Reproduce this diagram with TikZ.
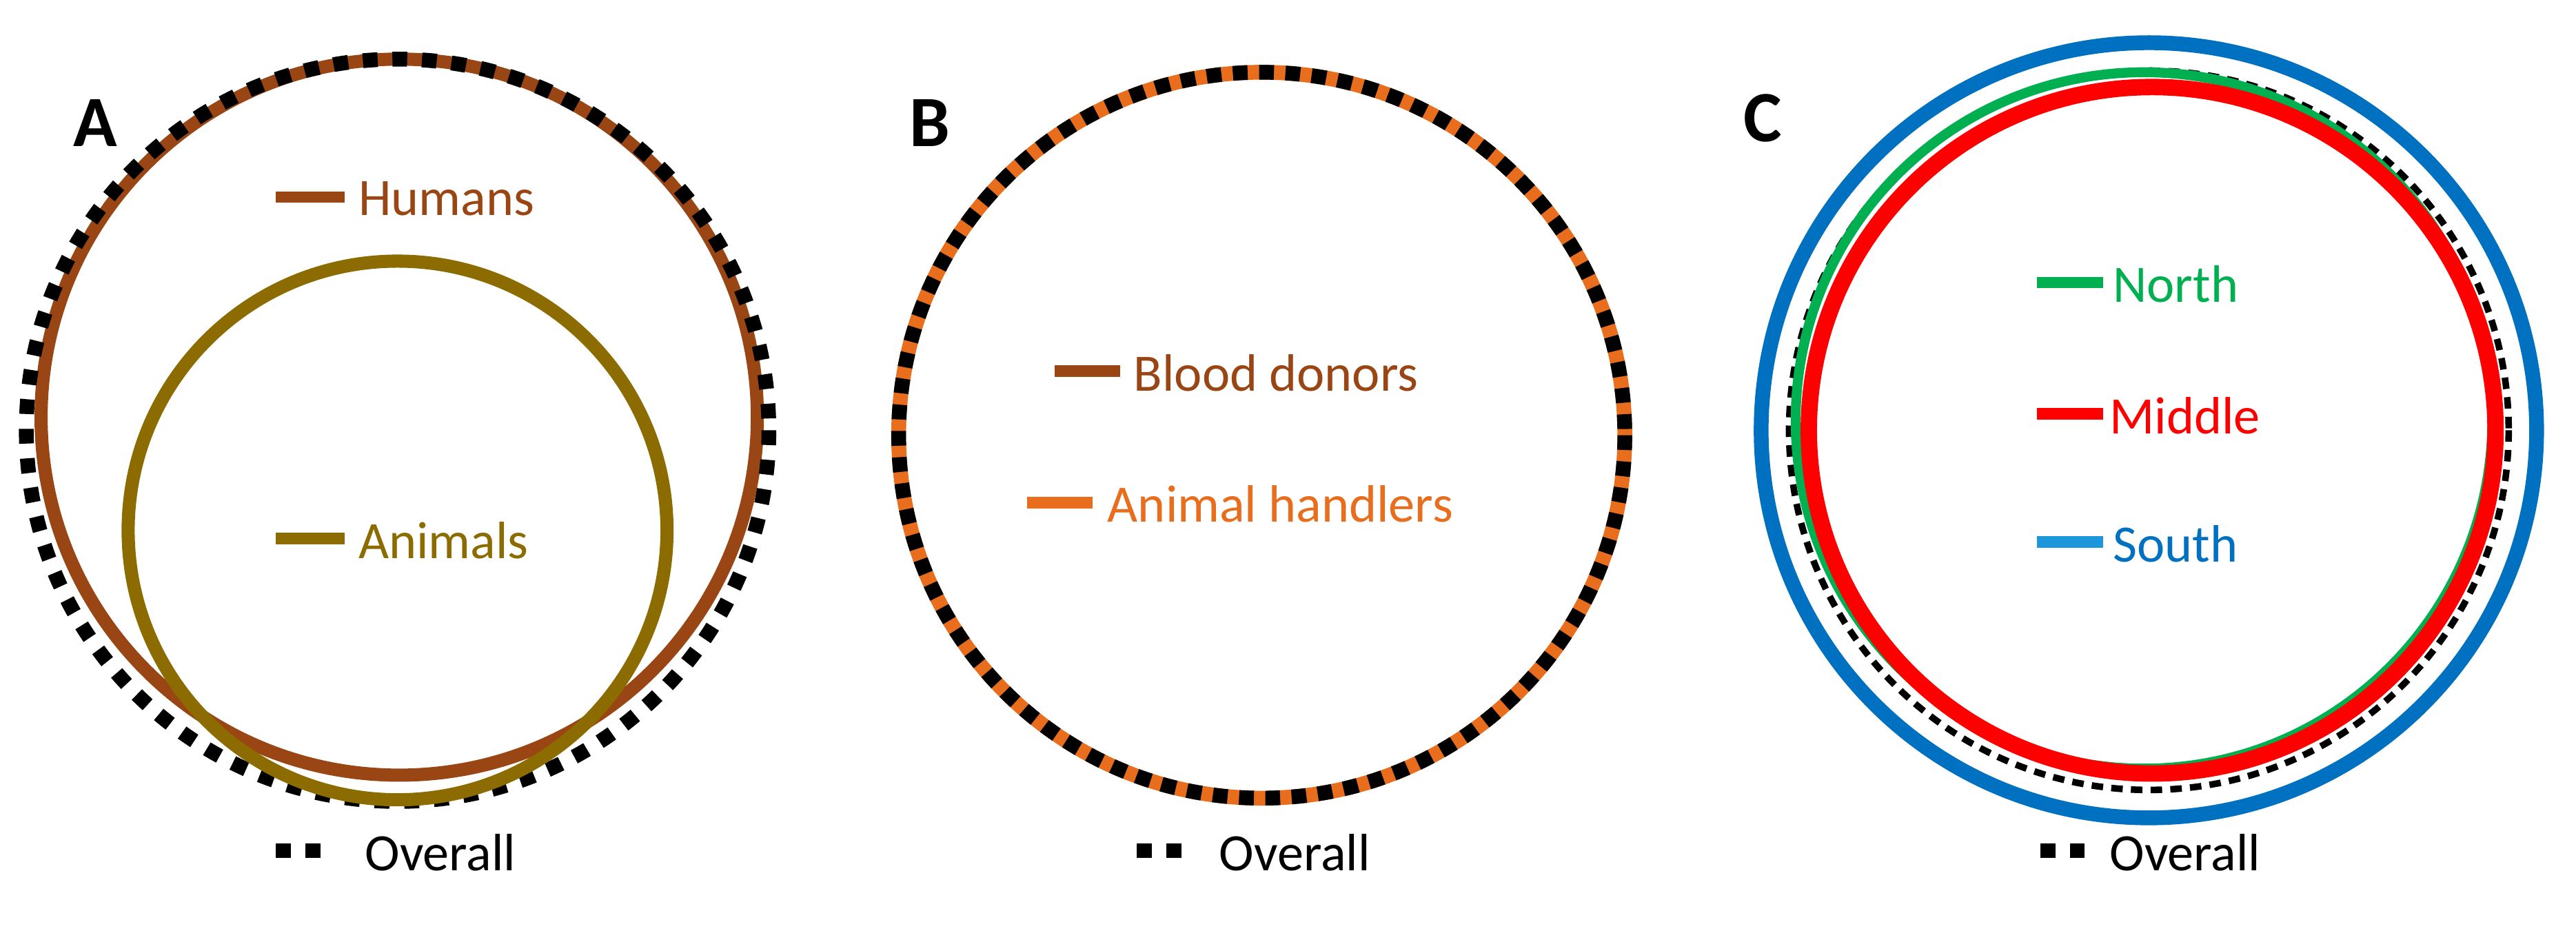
\documentclass[tikz,border=0pt]{standalone}
\usepackage{fontspec}
\setmainfont{Carlito}
\begin{document}
\begin{tikzpicture}[x=1pt,y=-1pt,
  ov/.style={draw=black,line width=9pt,dash pattern=on 9pt off 9pt},
  lg/.style={line width=7pt},
  lbl/.style={font=\fontsize{32}{36}\selectfont,anchor=west,inner sep=0pt},
  big/.style={font=\fontsize{44}{48}\selectfont\bfseries,inner sep=0pt}]
\definecolor{hum}{RGB}{153,69,20}
\definecolor{ani}{RGB}{140,108,0}
\definecolor{org}{RGB}{232,110,30}
\definecolor{nor}{RGB}{0,176,80}
\definecolor{blu}{RGB}{0,112,192}
\definecolor{sou}{RGB}{30,150,220}
\useasboundingbox (0,0) rectangle (1568,568);
% Panel A
\node[big] (la) at (58,75) {A};
\draw[hum,line width=8pt] (243,254) circle (218);
\draw[ov] (242,262) circle (226);
\draw[ani,line width=8pt] (242,323) circle (164);
\draw[hum,lg] (168,120) -- (210,120);
\node[lbl,text=hum] (th) at (218,121) {Humans};
\draw[ani,lg] (168,328) -- (210,328);
\node[lbl,text=ani] (ta) at (218,329) {Animals};
\draw[ov] (168,518) -- (195,518);
\node[lbl] (oa) at (222,519) {Overall};
% Panel B
\node[big] (lb) at (566,75) {B};
\draw[org,line width=9pt] (768,265) circle (221);
\draw[black,line width=9pt,dash pattern=on 9pt off 7pt] (768,265) circle (221);
\draw[hum,lg] (642,226) -- (682,226);
\node[lbl,text=hum] (tb) at (690,227) {Blood donors};
\draw[org,lg] (625,306) -- (665,306);
\node[lbl,text=org] (tc) at (674,307) {Animal handlers};
\draw[ov] (692,518) -- (719,518);
\node[lbl] (ob) at (742,519) {Overall};
% Panel C
\node[big] (lc) at (1073,72) {C};
\draw[blu,line width=9pt] (1308,262) circle (236);
\draw[black,line width=4pt,dash pattern=on 7pt off 5pt] (1308,262) circle (219);
\draw[nor,line width=6pt] (1305,256) circle (212);
\draw[red,line width=10pt] (1310,262) circle (209);
\draw[nor,lg] (1240,172) -- (1280,172);
\node[lbl,text=nor] (tn) at (1286,173) {North};
\draw[red,lg] (1240,252) -- (1280,252);
\node[lbl,text=red] (tm) at (1284,253) {Middle};
\draw[sou,lg] (1240,330) -- (1280,330);
\node[lbl,text=blu] (ts) at (1286,331) {South};
\draw[ov] (1242,518) -- (1269,518);
\node[lbl] (oc) at (1284,519) {Overall};
\end{tikzpicture}
\end{document}
